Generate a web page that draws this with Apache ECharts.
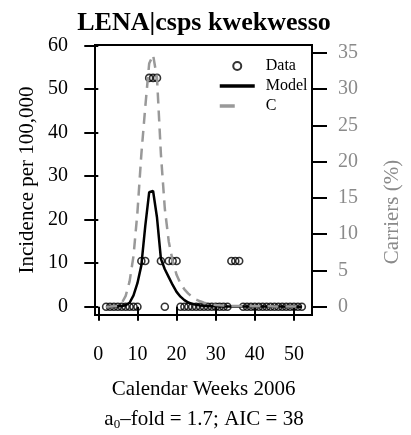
<!DOCTYPE html>
<html>
<head>
<meta charset="utf-8">
<script src="https://cdn.jsdelivr.net/npm/echarts@6/dist/echarts.min.js"></script>
<style>
html,body{margin:0;padding:0;background:#fff;}
#chart{width:411px;height:435px;}
</style>
</head>
<body>
<div id="chart"></div>
<script>
// ---- data ----
const weeks = [2,3,4,5,6,7,8,9,10,11,12,13,14,15,16,17,18,19,20,21,22,23,24,25,26,27,28,29,30,31,32,33,34,35,36,37,38,39,40,41,42,43,44,45,46,47,48,49,50,51,52];
const incidence = [0,0,0,0,0,0,0,0,0,10.5,10.5,52.6,52.6,52.6,10.5,0,10.5,10.5,10.5,0,0,0,0,0,0,0,0,0,0,0,0,0,10.5,10.5,10.5,0,0,0,0,0,0,0,0,0,0,0,0,0,0,0,0];
const model = [0.02,0.03,0.06,0.1,0.18,0.35,0.9,2.6,5.4,9.5,18.5,26.3,26.6,20.5,11,8.6,6.8,5.0,3.4,2.3,1.5,0.95,0.65,0.45,0.3,0.2,0.14,0.1,0.08,0.06,0.05,0.05,0.06,0.07,0.06,0.05,0.04,0.04,0.03,0.03,0.03,0.02,0.02,0.02,0.02,0.02,0.01,0.01,0.01,0.01,0.01];
const carriers = [0.01,0.02,0.05,0.15,0.5,1.5,3.5,7,13,21,27.5,33.5,34.7,31.5,21,13.5,9,6.3,4.4,3.2,2.4,1.8,1.35,1.0,0.75,0.55,0.42,0.32,0.25,0.2,0.16,0.13,0.11,0.1,0.09,0.08,0.07,0.07,0.06,0.06,0.05,0.05,0.05,0.04,0.04,0.04,0.03,0.03,0.03,0.03,0.03];
const xTicks = [0,10,20,30,40,50];
const leftTicks = [0,10,20,30,40,50,60];
const rightTicks = [0,5,10,15,20,25,30,35];
const titleText = 'LENA|csps kwekwesso';
const xName = 'Calendar Weeks 2006';
const leftName = 'Incidence per 100,000';
const rightName = 'Carriers (%)';
const subText = 'a{s|0}\u2013fold = 1.7; AIC = 38';

// ---- chart ----
const SERIF = "'Liberation Serif', 'DejaVu Serif', serif";
const GRAY = '#999999';
const GRAYTXT = '#8a8a8a';
const chart = echarts.init(document.getElementById('chart'), null, {renderer: 'canvas'});

const option = {
  animation: false,
  backgroundColor: '#ffffff',
  title: [
    {
      text: titleText, left: 204, textAlign: 'center', top: 10, padding: 0,
      textStyle: {fontFamily: SERIF, fontWeight: 'bold', fontSize: 26, color: '#000'}
    },
    {
      text: subText, left: 204, textAlign: 'center', top: 407, padding: 0,
      textStyle: {
        fontFamily: SERIF, fontWeight: 'normal', fontSize: 21, color: '#000', lineHeight: 24,
        rich: {s: {fontFamily: SERIF, fontSize: 13, lineHeight: 13, verticalAlign: 'bottom', color: '#000'}}
      }
    }
  ],
  legend: {
    orient: 'vertical', left: 218, top: 58, padding: 0,
    itemWidth: 35, itemHeight: 8, itemGap: 4,
    textStyle: {fontFamily: SERIF, fontSize: 16, color: '#000', lineHeight: 16, padding: [0, 0, 0, 6]},
    data: [
      {name: 'Data', icon: 'circle', itemStyle: {color: 'transparent', borderColor: '#000', borderWidth: 2}},
      {name: 'Model', itemStyle: {opacity: 0, color: 'transparent', borderWidth: 0}, lineStyle: {width: 3.5, color: '#000'}},
      {name: 'C', itemStyle: {opacity: 0, color: 'transparent', borderWidth: 0}, lineStyle: {width: 3.5, color: GRAY, type: [15, 30]}}
    ]
  },
  grid: {
    left: 95, right: 99, top: 45, bottom: 120,
    show: true, borderColor: '#000', borderWidth: 2, backgroundColor: 'transparent',
    containLabel: false, outerBoundsMode: 'none'
  },
  xAxis: {
    type: 'value', min: -0.84, max: 54.6,
    splitLine: {show: false}, axisLine: {show: false},
    axisTick: {show: true, customValues: xTicks, length: 14, lineStyle: {color: '#000', width: 2}},
    axisLabel: {customValues: xTicks, margin: 30, fontFamily: SERIF, fontSize: 20, color: '#000'},
    name: xName, nameLocation: 'middle', nameGap: 64,
    nameTextStyle: {fontFamily: SERIF, fontSize: 21, color: '#000'}
  },
  yAxis: [
    {
      type: 'value', min: -1.91, max: 60.16, position: 'left',
      splitLine: {show: false}, axisLine: {show: false},
      axisTick: {show: true, customValues: leftTicks, length: 14, lineStyle: {color: '#000', width: 2}},
      axisLabel: {customValues: leftTicks, margin: 27, fontFamily: SERIF, fontSize: 20, color: '#000'}
    },
    {
      type: 'value', min: -1.14, max: 36.06, position: 'right',
      splitLine: {show: false}, axisLine: {show: false},
      axisTick: {show: true, customValues: rightTicks, length: 15, lineStyle: {color: '#000', width: 2}},
      axisLabel: {customValues: rightTicks, margin: 26, fontFamily: SERIF, fontSize: 20, color: GRAYTXT}
    }
  ],
  graphic: [
    {
      type: 'text', x: 27, y: 180, rotation: Math.PI / 2,
      style: {text: leftName, fontFamily: SERIF, fontSize: 21, fill: '#000', align: 'center', verticalAlign: 'middle'}
    },
    {
      type: 'text', x: 392, y: 212, rotation: Math.PI / 2,
      style: {text: rightName, fontFamily: SERIF, fontSize: 21, fill: GRAYTXT, align: 'center', verticalAlign: 'middle'}
    }
  ],
  series: [
    {
      name: 'Data', type: 'scatter', z: 2, color: '#000',
      data: weeks.map((w, i) => [w, incidence[i]]),
      symbol: 'circle', symbolSize: 7,
      itemStyle: {color: 'transparent', borderColor: '#000', borderWidth: 1.6}
    },
    {
      name: 'Model', type: 'line', z: 3, color: '#000',
      data: weeks.map((w, i) => [w, model[i]]),
      symbol: 'none', lineStyle: {color: '#000', width: 2.5}
    },
    {
      name: 'C', type: 'line', z: 4, yAxisIndex: 1, color: GRAY,
      data: weeks.map((w, i) => [w, carriers[i]]),
      symbol: 'none', lineStyle: {color: GRAY, width: 2.5, type: [11, 7]}
    }
  ]
};
chart.setOption(option);
</script>
</body>
</html>
